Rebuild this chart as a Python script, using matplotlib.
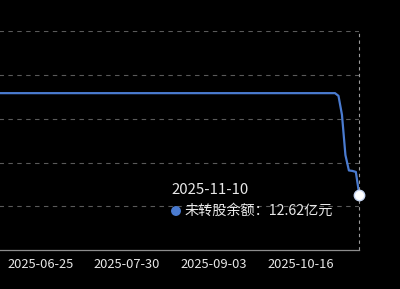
import matplotlib
matplotlib.use("Agg")
import matplotlib.pyplot as plt
from matplotlib.patches import Ellipse
import pandas as pd

plt.rcParams["font.family"] = ["Noto Sans CJK SC", "DejaVu Sans"]

# trading calendar (A-share), holidays closed
start_date = "2025-05-20"
end_date = "2025-11-10"
holidays = ["2025-06-02", "2025-10-01", "2025-10-02", "2025-10-03",
            "2025-10-06", "2025-10-07", "2025-10-08"]

# unconverted balance (100M CNY), key points
key_dates = ["2025-05-20", "2025-10-30", "2025-10-31", "2025-11-03", "2025-11-04",
             "2025-11-05", "2025-11-06", "2025-11-07", "2025-11-10"]
key_values = [35.86, 35.86, 35.24, 30.9, 21.7, 18.19, 18.08, 17.85, 12.62]

series_name = "未转股余额"
unit = "亿元"
label_every = 25

days = pd.bdate_range(start_date, end_date)
days = [d.strftime("%Y-%m-%d") for d in days if d.strftime("%Y-%m-%d") not in holidays]
pos = {d: i for i, d in enumerate(days)}

xs = [pos[d] for d in key_dates]
last = len(days) - 1

W, H = 400, 289
fig = plt.figure(figsize=(W / 100, H / 100), dpi=100, facecolor="black")

# plot area: right edge at 359px, starts off the left of the picture
px_per_day = 3.468
right_px, top_px, bottom_px = 359.3, 31.3, 250.0
left_px = right_px - last * px_per_day
ax = fig.add_axes([left_px / W, (H - bottom_px) / H,
                   (right_px - left_px) / W, (bottom_px - top_px) / H])
ax.set_facecolor("black")

line_color = "#4a7bd0"
ax.plot(xs, key_values, color=line_color, lw=1.6, solid_joinstyle="round", zorder=3)
ax.plot([xs[-1]], [key_values[-1]], "o", ms=7.5, mfc="white", mec="#c8d6f0", mew=1,
        zorder=4, clip_on=False)

ax.set_xlim(0, last)
ax.set_ylim(0, 50)
ax.set_yticks([10, 20, 30, 40, 50])
ax.yaxis.grid(True, color="#5a5a5a", ls=(0, (4, 4)), lw=0.8)
ax.set_yticklabels([])
ax.tick_params(axis="y", length=0)

# first label (index 0) sits outside the picture, so start from the next one
ticks = list(range(label_every, last + 1, label_every))
ax.set_xticks(ticks)
ax.set_xticklabels([days[i] for i in ticks], color="#e6e6e6", fontsize=9.3)
ax.tick_params(axis="x", length=0, pad=6)

for s in ["top", "left", "right"]:
    ax.spines[s].set_visible(False)
ax.spines["bottom"].set_color("#8c8c8c")
ax.spines["bottom"].set_linewidth(0.9)

# tooltip axis pointer
ax.axvline(last, color="#9a9a9a", ls=(0, (3, 3)), lw=0.8, zorder=2, clip_on=False)

# tooltip
fig.text(171.5 / W, (H - 190.3) / H, days[last], color="#e8e8e8", fontsize=10.8,
         va="center", ha="left")
fig.add_artist(Ellipse((176 / W, (H - 211) / H), 8.5 / W, 8.5 / H,
                       transform=fig.transFigure, color=line_color))
fig.text(184.5 / W, (H - 211) / H, f"{series_name}：{key_values[-1]:.2f}{unit}",
         color="#e8e8e8", fontsize=10.2, va="center", ha="left")

fig.savefig("out.png", dpi=100, facecolor="black")
